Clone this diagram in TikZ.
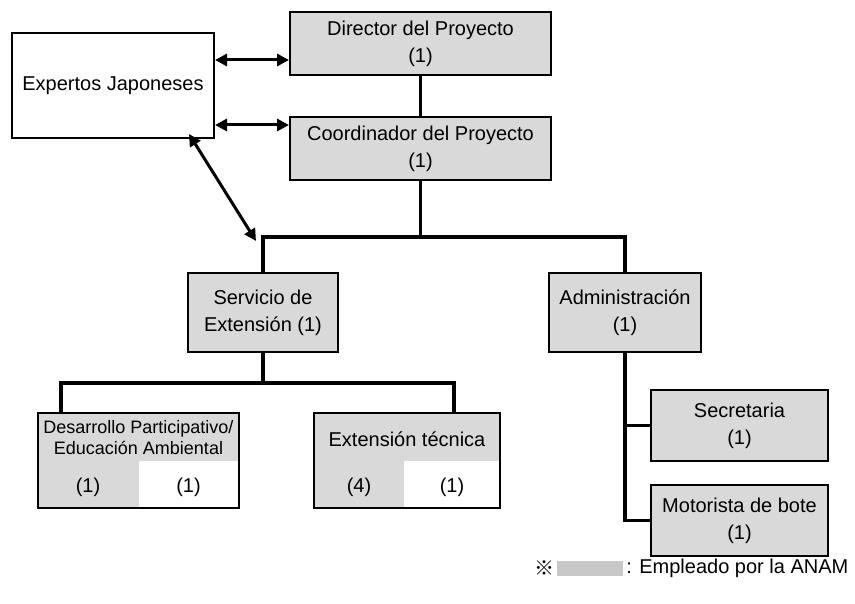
\documentclass[tikz,border=0pt]{standalone}
\usepackage{fontspec}
\setmainfont{Liberation Sans}
\newfontfamily\cjk{Noto Sans CJK JP}
\usetikzlibrary{arrows.meta}
\definecolor{boxgray}{HTML}{D9D9D9}
\definecolor{keygray}{HTML}{C8C8C8}
\tikzset{
  box/.style={draw, fill=boxgray, line width=2pt, align=center, inner sep=0pt,
    font=\fontsize{20}{27}\selectfont},
  splitbox/.style={box, path picture={\fill[white] ([xshift=#1]path picture bounding box.center)
    rectangle (path picture bounding box.south east);}},
  txt/.style={align=center, inner sep=0pt, font=\fontsize{20}{27}\selectfont},
  link/.style={line width=3.5pt},
  dual/.style={line width=3pt, {Triangle[length=12pt,width=12pt]}-{Triangle[length=12pt,width=12pt]}},
}
\begin{document}
\begin{tikzpicture}[x=1pt, y=-1pt]
\useasboundingbox (0,0) rectangle (855,604);

% upper boxes
\node[box, fill=white, minimum width=202pt, minimum height=105pt] (exp) at (113,85.5) {Expertos Japoneses};
\node[box, minimum width=261pt, minimum height=63pt] (dir) at (420.5,43.5) {Director del Proyecto\\(1)};
\node[box, minimum width=261pt, minimum height=63pt] (coord) at (420.5,148.5) {Coordinador del Proyecto\\(1)};

% second level
\node[box, minimum width=150pt, minimum height=79pt] (serv) at (263,312.5) {Servicio de\\Extensión (1)};
\node[box, minimum width=152pt, minimum height=79pt] (adm) at (625,312.5) {Administración\\(1)};

% third level
\node[splitbox=0pt, minimum width=201pt, minimum height=95pt] (des) at (138.5,460.5) {};
\node[txt, font=\fontsize{18}{21}\selectfont] (desT) at (138.5,438) {Desarrollo Participativo/\\Educación Ambiental};
\node[txt] (desA) at (88,487) {(1)};
\node[txt] (desB) at (188.5,487) {(1)};

\node[splitbox=-3pt, minimum width=186pt, minimum height=95pt] (ext) at (407,460.5) {};
\node[txt] (extT) at (407,439) {Extensión técnica};
\node[txt] (extA) at (359,487) {(4)};
\node[txt] (extB) at (452,487) {(1)};

\node[box, minimum width=177pt, minimum height=71pt] (sec) at (739.5,425.5) {Secretaria\\(1)};
\node[box, minimum width=177pt, minimum height=71pt] (mot) at (739.5,520.5) {Motorista de bote\\(1)};

% connectors
\draw[link] (dir.south) -- (coord.north);
\draw[link] (coord.south) -- (coord.south |- 0,237) coordinate (bus);
\draw[link] (serv.north) |- (bus) -| (adm.north);
\draw[link] (serv.south) -- ++(0,30) coordinate (bus2);
\coordinate (desIn) at ([xshift=24pt]des.north west);
\coordinate (extIn) at ([xshift=47pt]ext.north);
\draw[link] (desIn) |- (bus2) -| (extIn);
\draw[link] (adm.south) |- (mot.west);
\draw[link] (adm.south |- sec.west) -- (sec.west);

\draw[dual] (exp.east |- 0,60) -- (dir.west |- 0,60);
\draw[dual] (exp.east |- 0,125) -- (coord.west |- 0,125);
\draw[dual] ([xshift=-26pt,yshift=5pt]exp.south east) -- ([xshift=-7pt,yshift=-4pt]serv.north |- bus);

% key
\node[fill=keygray, minimum width=66pt, minimum height=15pt, inner sep=0pt] (key) at (590,568.5) {};
\node[anchor=east, inner sep=2pt, font=\cjk\fontsize{20}{20}\selectfont] (mark) at (key.west) {※};
\node[anchor=west, inner sep=3pt, font=\fontsize{20}{20}\selectfont] (keytxt) at (key.east) {: Empleado por la ANAM};
\end{tikzpicture}
\end{document}
